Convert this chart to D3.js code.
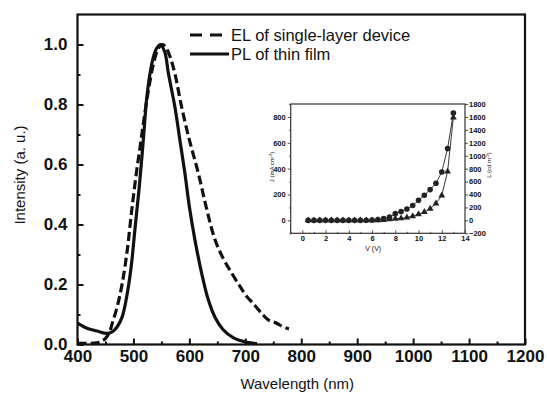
<!DOCTYPE html>
<html>
<head>
<meta charset="utf-8">
<script src="https://cdn.jsdelivr.net/npm/d3@7"></script>
<style>
  body { margin: 0; background: #fff; }
  text { font-family: "Liberation Sans", Arial, sans-serif; fill: #111; }
</style>
</head>
<body>
<div id="chart"></div>
<script>
// Data
var plWave = [400, 417, 435, 452, 462, 471, 480, 488, 496, 503, 511, 518, 524, 533, 540, 548, 556, 562.5, 574, 583, 592, 600, 610, 622, 634, 646, 660, 679, 703, 721];
var plInt  = [0.071, 0.054, 0.045, 0.037, 0.042, 0.059, 0.093, 0.16, 0.26, 0.39, 0.537, 0.69, 0.826, 0.937, 0.982, 1.0, 0.975, 0.904, 0.793, 0.682, 0.571, 0.459, 0.348, 0.237, 0.148, 0.09, 0.05, 0.022, 0.007, 0.003];

var elWave = [400, 420, 435, 443, 450, 457, 462, 471, 480, 489, 497, 506, 512, 518, 527, 536, 544, 552, 558, 565.5, 574, 586, 600, 616, 630, 646, 661, 676, 690, 703, 714, 729, 741, 756, 766, 774, 778];
var elInt  = [0.004, 0.004, 0.006, 0.012, 0.02, 0.04, 0.07, 0.126, 0.204, 0.315, 0.448, 0.582, 0.66, 0.74, 0.85, 0.937, 0.985, 1.0, 0.99, 0.959, 0.904, 0.793, 0.682, 0.571, 0.459, 0.348, 0.285, 0.237, 0.195, 0.159, 0.137, 0.104, 0.082, 0.071, 0.06, 0.054, 0.052];

var xTicks = [400, 500, 600, 700, 800, 900, 1000, 1100, 1200];
var yTicks = [0.0, 0.2, 0.4, 0.6, 0.8, 1.0];
var legendLabels = ["EL of single-layer device", "PL of thin film"];

// inset: J-V-L
var voltage = [0.5, 1, 1.5, 2, 2.5, 3, 3.5, 4, 4.5, 5, 5.5, 6, 6.5, 7, 7.5, 8, 8.5, 9, 9.5, 10, 10.5, 11, 11.5, 12, 12.5, 13];
var currentJ = [0, 0, 0, 0, 0, 0, 0, 0, 0, 0, 1, 3, 6, 14, 25, 52, 68, 88, 115, 155, 194, 238, 287, 374, 555, 830];
var lumL = [0, 0, 0, 0, 0, 0, 0, 0, 0, 0, 0, 0, 2, 5, 15, 25, 32, 45, 65, 95, 130, 180, 262, 385, 754, 1592];
var insetXTicks = [0, 2, 4, 6, 8, 10, 12, 14];
var insetJTicks = [0, 200, 400, 600, 800];
var insetLTicks = [-200, 0, 200, 400, 600, 800, 1000, 1200, 1400, 1600, 1800];

var svgWidth = 547, svgHeight = 397;
var plot = { left: 77.5, right: 525, top: 14.5, bottom: 344.5 };

var svg = d3.select("#chart").append("svg")
  .attr("width", svgWidth)
  .attr("height", svgHeight);

var x = d3.scaleLinear().domain([400, 1200]).range([plot.left, plot.right]);
var y = d3.scaleLinear().domain([0, 1.1]).range([plot.bottom, plot.top]);

// axes with inward ticks
var xAxis = d3.axisBottom(x).tickValues(xTicks).tickSize(-6).tickPadding(5).tickFormat(d3.format("d"));
var xMinor = d3.axisBottom(x).tickValues(d3.range(450, 1200, 100)).tickSize(-3).tickFormat("");
var yAxis = d3.axisLeft(y).tickValues(yTicks).tickSize(-6).tickPadding(10).tickFormat(d3.format(".1f"));
var yMinor = d3.axisLeft(y).tickValues([0.1, 0.3, 0.5, 0.7, 0.9]).tickSize(-3).tickFormat("");

function styleAxis(g) {
  g.select(".domain").remove();
  g.selectAll("line").attr("stroke", "#111").attr("stroke-width", 2);
}

svg.append("g").attr("transform", `translate(0,${plot.bottom})`).call(xAxis).call(styleAxis)
  .selectAll("text").attr("font-size", 17).attr("font-weight", "bold").attr("font-family", "Liberation Sans, Arial").attr("fill", "#111");
svg.append("g").attr("transform", `translate(0,${plot.bottom})`).call(xMinor).call(styleAxis);
svg.append("g").attr("transform", `translate(${plot.left},0)`).call(yAxis).call(styleAxis)
  .selectAll("text").attr("font-size", 17).attr("font-weight", "bold").attr("font-family", "Liberation Sans, Arial").attr("fill", "#111");
svg.append("g").attr("transform", `translate(${plot.left},0)`).call(yMinor).call(styleAxis);

// frame
svg.append("rect")
  .attr("x", plot.left).attr("y", plot.top)
  .attr("width", plot.right - plot.left).attr("height", plot.bottom - plot.top)
  .attr("fill", "none").attr("stroke", "#111").attr("stroke-width", 2.2);

// curves
var line = d3.line().x(d => x(d[0])).y(d => y(d[1])).curve(d3.curveCatmullRom);
var elData = elWave.map((w, i) => [w, elInt[i]]);
var plData = plWave.map((w, i) => [w, plInt[i]]);

svg.append("path").datum(elData)
  .attr("d", line).attr("fill", "none").attr("stroke", "#111")
  .attr("stroke-width", 3.2).attr("stroke-dasharray", "9,4");
svg.append("path").datum(plData)
  .attr("d", line).attr("fill", "none").attr("stroke", "#111")
  .attr("stroke-width", 3.2);

// legend
var legend = svg.append("g");
legendLabels.forEach(function(lbl, i) {
  var ly = 35 + i * 19;
  legend.append("line")
    .attr("x1", 190).attr("x2", 229).attr("y1", ly).attr("y2", ly)
    .attr("stroke", "#111").attr("stroke-width", 3.2)
    .attr("stroke-dasharray", i == 0 ? "12,8" : null);
  legend.append("text")
    .attr("x", 231).attr("y", ly + 6)
    .attr("font-size", 16.5)
    .text(lbl);
});

// axis titles
svg.append("text")
  .attr("x", (plot.left + plot.right) / 2 - 4).attr("y", 389)
  .attr("text-anchor", "middle").attr("font-size", 15)
  .text("Wavelength (nm)");
svg.append("text")
  .attr("transform", "translate(25,175) rotate(-90)")
  .attr("text-anchor", "middle").attr("font-size", 15)
  .text("Intensity (a. u.)");

// ---- inset ----
var ins = { left: 290.7, right: 465, top: 104, bottom: 233.3 };
var ix = d3.scaleLinear().domain([-1, 14]).range([ins.left, ins.right]);
var iyJ = d3.scaleLinear().domain([-100, 900]).range([ins.bottom, ins.top]);
var iyL = d3.scaleLinear().domain([-200, 1800]).range([ins.bottom, ins.top]);

function styleInset(g) {
  g.select(".domain").remove();
  g.selectAll("line").attr("stroke", "#222").attr("stroke-width", 0.8);
  g.selectAll("text").attr("font-size", 7.5).attr("font-weight", "bold")
    .attr("font-family", "Liberation Sans, Arial").attr("fill", "#222");
}

svg.append("g").attr("transform", `translate(0,${ins.bottom})`)
  .call(d3.axisBottom(ix).tickValues(insetXTicks).tickSize(-3).tickPadding(2).tickFormat(d3.format("d"))).call(styleInset);
svg.append("g").attr("transform", `translate(0,${ins.bottom})`)
  .call(d3.axisBottom(ix).tickValues(d3.range(-1, 14, 2)).tickSize(-1.5).tickFormat("")).call(styleInset);
svg.append("g").attr("transform", `translate(${ins.left},0)`)
  .call(d3.axisLeft(iyJ).tickValues(insetJTicks).tickSize(3).tickPadding(2).tickFormat(d3.format("d"))).call(styleInset);
svg.append("g").attr("transform", `translate(${ins.left},0)`)
  .call(d3.axisLeft(iyJ).tickValues([-100, 100, 300, 500, 700, 900]).tickSize(1.5).tickFormat("")).call(styleInset);
svg.append("g").attr("transform", `translate(${ins.right},0)`)
  .call(d3.axisRight(iyL).tickValues(insetLTicks).tickSize(3).tickPadding(1).tickFormat(d3.format("d"))).call(styleInset);

svg.append("rect")
  .attr("x", ins.left).attr("y", ins.top)
  .attr("width", ins.right - ins.left).attr("height", ins.bottom - ins.top)
  .attr("fill", "none").attr("stroke", "#333").attr("stroke-width", 1.2);

var jData = voltage.map((v, i) => [v, currentJ[i]]);
var lData = voltage.map((v, i) => [v, lumL[i]]);

svg.append("path").datum(lData)
  .attr("d", d3.line().x(d => ix(d[0])).y(d => iyL(d[1])))
  .attr("fill", "none").attr("stroke", "#222").attr("stroke-width", 0.9);
svg.append("path").datum(jData)
  .attr("d", d3.line().x(d => ix(d[0])).y(d => iyJ(d[1])))
  .attr("fill", "none").attr("stroke", "#222").attr("stroke-width", 0.9);

svg.selectAll(".tri").data(lData).enter().append("path")
  .attr("class", "tri")
  .attr("transform", d => `translate(${ix(d[0])},${iyL(d[1])})`)
  .attr("d", d3.symbol(d3.symbolTriangle, 20))
  .attr("fill", "#222");
svg.selectAll(".dot").data(jData).enter().append("circle")
  .attr("class", "dot")
  .attr("cx", d => ix(d[0])).attr("cy", d => iyJ(d[1]))
  .attr("r", 2.8).attr("fill", "#222");

svg.append("text")
  .attr("x", ix(6.1)).attr("y", 251)
  .attr("text-anchor", "middle").attr("font-size", 7).attr("fill", "#444")
  .text("V (V)");
svg.append("text")
  .attr("transform", "translate(274,167) rotate(-90)")
  .attr("text-anchor", "middle").attr("font-size", 6).attr("fill", "#333")
  .html("J (mA cm<tspan dy='-2' font-size='4'>-2</tspan><tspan dy='2'>)</tspan>");
svg.append("text")
  .attr("transform", "translate(491,165) rotate(-90)")
  .attr("text-anchor", "middle").attr("font-size", 6).attr("fill", "#333")
  .html("L (cd m<tspan dy='-2' font-size='4'>-2</tspan><tspan dy='2'>)</tspan>");
</script>
</body>
</html>
